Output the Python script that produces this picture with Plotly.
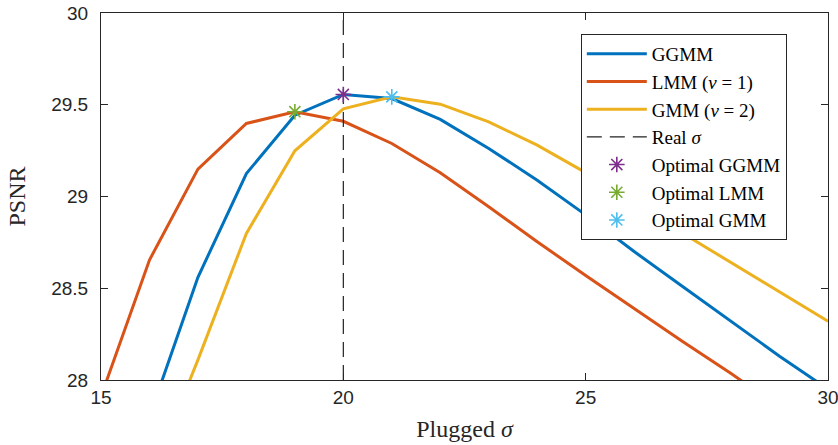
import numpy as np
import plotly.graph_objects as go

sigma = [15, 16, 17, 18, 19, 20, 21, 22, 23, 24, 25, 26, 27, 28, 29, 30]
psnr_ggmm = [27.20, 27.80, 28.56, 29.125, 29.443, 29.556, 29.534, 29.42, 29.262, 29.089, 28.90, 28.70, 28.51, 28.32, 28.13, 27.95]
psnr_lmm = [27.91, 28.654, 29.149, 29.398, 29.462, 29.41, 29.289, 29.129, 28.944, 28.753, 28.57, 28.39, 28.21, 28.035, 27.85, 27.67]
psnr_gmm = [26.60, 27.45, 28.11, 28.799, 29.249, 29.478, 29.543, 29.503, 29.407, 29.28, 29.13, 28.97, 28.80, 28.64, 28.48, 28.32]
real_sigma = 20
x_ticks = [15, 20, 25, 30]
y_ticks = [28, 28.5, 29, 29.5, 30]

c_ggmm, c_lmm, c_gmm = "#0072BD", "#D95319", "#EDB120"
c_opt = ["#7E2F8E", "#77AC30", "#4DBEEE"]

fig = go.Figure()
for name, ys, col in [("GGMM", psnr_ggmm, c_ggmm),
                      ("LMM (<i>ν</i> = 1)", psnr_lmm, c_lmm),
                      ("GMM (<i>ν</i> = 2)", psnr_gmm, c_gmm)]:
    fig.add_trace(go.Scatter(x=sigma, y=ys, mode="lines", name=name,
                             line=dict(color=col, width=3)))

fig.add_trace(go.Scatter(x=[real_sigma, real_sigma], y=[y_ticks[0], y_ticks[-1]],
                         mode="lines", name="Real <i>σ</i>",
                         line=dict(color="#222222", width=1.2, dash="15px,8px")))

for name, ys, col in [("Optimal GGMM", psnr_ggmm, c_opt[0]),
                      ("Optimal LMM", psnr_lmm, c_opt[1]),
                      ("Optimal GMM", psnr_gmm, c_opt[2])]:
    i = int(np.argmax(ys))
    fig.add_trace(go.Scatter(x=[sigma[i]], y=[ys[i]], mode="markers", name=name,
                             marker=dict(symbol="asterisk-open", size=13,
                                         line=dict(color=col, width=1.6), color=col)))

axis_common = dict(showgrid=False, zeroline=False, showline=True, linecolor="#262626",
                   linewidth=1, mirror="ticks", ticks="inside", ticklen=7, automargin=False,
                   ticklabeloverflow="allow",
                   tickcolor="#262626", tickfont=dict(family="Liberation Sans, Arial", size=19, color="#262626"))

fig.update_xaxes(range=[15, 30], tickvals=x_ticks, ticktext=[str(v) for v in x_ticks],
                 title=dict(text="Plugged <i>σ</i>", font=dict(family="Liberation Serif, serif", size=24, color="#262626"), standoff=13),
                 **axis_common)
fig.update_yaxes(range=[28, 30], tickvals=y_ticks, ticktext=["28", "28.5", "29", "29.5", "30"],
                 ticklabelstandoff=8,
                 title=dict(text="PSNR", font=dict(family="Liberation Serif, serif", size=24, color="#262626"), standoff=18),
                 **axis_common)

fig.update_layout(
    width=838, height=445,
    margin=dict(l=101, r=10, t=13, b=65, autoexpand=False),
    plot_bgcolor="white", paper_bgcolor="white",
    showlegend=True,
    legend=dict(x=0.66, y=0.943, xanchor="left", yanchor="top",
                bgcolor="white", bordercolor="#262626", borderwidth=1,
                font=dict(family="Liberation Serif, serif", size=19, color="#000000"),
                tracegroupgap=0, itemwidth=60),
)

fig.write_html("out.html", config={"displayModeBar": False},
               post_script="document.body.style.margin='0';document.body.style.padding='0';")
